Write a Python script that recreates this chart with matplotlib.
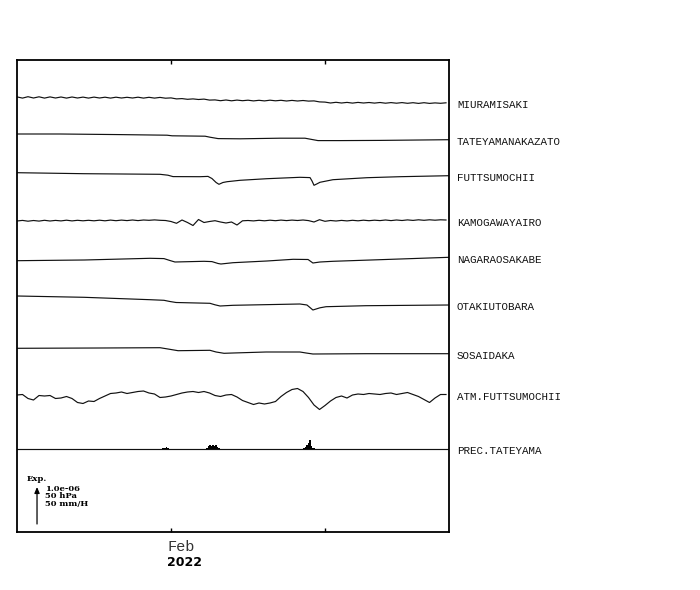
import numpy as np
import matplotlib
matplotlib.use("Agg")
import matplotlib.pyplot as plt

# ---------------- data ----------------
station_names = ["MIURAMISAKI", "TATEYAMANAKAZATO", "FUTTSUMOCHII", "KAMOGAWAYAIRO",
                 "NAGARAOSAKABE", "OTAKIUTOBARA", "SOSAIDAKA", "ATM.FUTTSUMOCHII",
                 "PREC.TATEYAMA"]

# days since 2022-01-25 00:00, 6-hourly samples for the wiggly records
wiggle_days = np.arange(79) * 0.25

miura_vals = [0.6, -0.6, 0.8, -0.5, 0.7, -0.6, 0.6, -0.5, 0.5, -0.6, 0.5, -0.5, 0.4, -0.6,
              0.4, -0.5, 0.3, -0.6, 0.3, -0.5, 0.2, -0.5, 0.3, -0.6, 0.2, -0.6, 0.1, -0.7,
              -0.4, -1.4, -1.1, -1.8, -1.4, -2.0, -1.6, -2.6, -2.4, -3.2, -2.5, -3.3, -2.6,
              -3.2, -2.7, -3.4, -2.8, -3.4, -2.7, -3.3, -2.8, -3.5, -2.9, -3.5, -3.0, -3.6,
              -3.4, -4.4, -4.6, -5.5, -4.8, -5.5, -4.9, -5.6, -4.9, -5.5, -5.0, -5.6, -5.0,
              -5.7, -5.1, -5.7, -5.1, -5.8, -5.2, -5.9, -5.2, -5.9, -5.4, -5.8, -5.3]

kamo_vals = [0.0, 0.6, -0.2, 0.5, -0.1, 0.7, 0.0, 0.6, 0.1, 0.8, 0.1, 0.7, 0.2, 0.7,
             0.2, 0.8, 0.2, 0.9, 0.3, 0.9, 0.4, 1.0, 0.4, 1.0, 0.7, 1.1, 0.7, 0.5,
             -0.5, -2.3, 1.0, -1.5, -4.5, 1.5, -1.5, -0.5, 0.3, -1.0, -2.0, -1.0, -4.0,
             0.2, 0.5, 0.1, 0.7, 0.2, 0.8, 0.3, 0.9, 0.4, 0.9, 0.5, 1.0, 0.4, -1.0,
             1.3, -0.3, 0.5, 0.0, 0.6, 0.1, 0.7, 0.2, 0.8, 0.3, 0.8, 0.4, 1.0, 0.4,
             1.0, 0.5, 1.1, 0.6, 1.2, 0.7, 1.2, 0.8, 1.2, 1.0]

atm_vals = [0.0, 0.5, -3.5, -5.0, -0.5, -1.0, -0.5, -3.5, -3.0, -1.5, -3.5, -7.5, -8.5,
            -6.0, -6.5, -3.5, -1.0, 1.5, 2.0, 3.0, 1.5, 2.5, 3.5, 4.0, 2.0, 1.0, -2.5,
            -2.0, -1.0, 0.5, 2.0, 3.0, 3.5, 2.5, 3.5, 2.0, -0.5, -1.5, 0.0, 0.5, -2.0,
            -5.5, -7.5, -9.5, -8.0, -9.0, -8.0, -6.5, -1.5, 2.5, 5.5, 6.5, 3.5, -2.5,
            -10.0, -14.5, -10.5, -6.0, -2.5, -1.0, -3.0, 0.0, 1.0, 0.5, 1.5, 1.0, 0.5,
            1.5, 2.0, 0.5, 1.5, 2.5, 0.5, -1.5, -4.5, -7.5, -3.0, 0.5, 0.5]

tateyama_days = [0.00, 1.95, 4.68, 6.82, 7.05, 8.55, 8.77, 9.14, 10.14, 11.95, 13.09,
                 13.41, 13.68, 14.68, 16.50, 18.32, 19.64]
tateyama_vals = [0, 0, -0.6, -1.2, -1.8, -2.2, -3.2, -4.6, -4.8, -4.2, -4.2, -5.5, -6.6,
                 -6.6, -6.4, -6.0, -5.7]

futtsu_days = [0.00, 3.05, 6.50, 6.86, 7.09, 8.32, 8.68, 8.86, 9.05, 9.18, 9.36, 9.55,
               10.14, 11.36, 12.86, 13.32, 13.41, 13.50, 13.64, 13.77, 14.36, 15.91,
               17.41, 19.64]
futtsu_vals = [0, -1.0, -1.6, -2.5, -3.9, -4.0, -3.7, -5.8, -9.8, -11.6, -9.8, -9.0,
               -7.6, -6.0, -4.6, -4.9, -8.3, -12.6, -11.1, -9.6, -7.0, -5.0, -4.0, -3.0]

nagara_days = [0.00, 3.05, 6.05, 6.68, 6.95, 7.18, 8.50, 8.86, 9.14, 9.27, 9.82, 11.36,
               12.55, 13.23, 13.45, 13.77, 14.36, 17.41, 19.64]
nagara_vals = [0, 0.7, 2.4, 2.1, 0.2, -1.3, -0.6, -0.9, -2.8, -3.3, -2.0, -0.3, 1.4,
               1.2, -2.3, -1.3, -0.6, 1.7, 3.4]

otaki_days = [0.00, 3.05, 6.05, 6.68, 6.95, 7.23, 8.77, 9.00, 9.23, 9.82, 12.86, 13.18,
              13.45, 13.77, 14.05, 15.86, 19.64]
otaki_vals = [0, -1.3, -3.7, -4.3, -5.5, -6.5, -7.3, -8.8, -10.0, -9.3, -8.0, -9.0,
              -14.0, -11.8, -10.7, -9.7, -9.0]

sosai_days = [0.00, 3.77, 6.50, 6.86, 7.32, 8.77, 9.05, 9.41, 9.82, 11.32, 12.86, 13.14,
              13.45, 15.86, 19.64]
sosai_vals = [0, 0.3, 0.6, -0.7, -2.4, -2.0, -3.7, -5.0, -4.7, -3.7, -3.7, -4.7, -5.7,
              -5.4, -5.4]

prec_days = [6.636, 6.727, 6.795, 6.864, 6.932,
             8.636, 8.705, 8.773, 8.841, 8.909, 8.977, 9.045, 9.114, 9.182,
             13.045, 13.114, 13.182, 13.250, 13.318, 13.364, 13.432, 13.500, 13.590]
prec_vals = [0.6, 1.2, 1.8, 1.2, 0.5,
             1.0, 3.0, 4.0, 3.2, 4.5, 3.5, 4.0, 2.5, 1.0,
             1.0, 2.0, 4.0, 6.0, 9.0, 3.0, 1.5, 1.0, 0.5]

# vertical placement of each record (axis units, 0 = bottom, 472 = top)
trace_base = [434.5, 398.0, 359.3, 311.0, 271.3, 236.0, 183.7, 137.0, 83.0]
scale_len = 37          # length of the scale arrow (axis units)
scale_texts = ["1.0e-06", "50 hPa", "50 mm/H"]

# ---------------- figure ----------------
fig = plt.figure(figsize=(7.0, 5.9), dpi=100)
ax = fig.add_axes([17 / 700, 58 / 590, 432 / 700, 472 / 590])
ax.set_xlim(0, 19.636)
ax.set_ylim(0, 472)

series = [
    (wiggle_days, miura_vals),
    (tateyama_days, tateyama_vals),
    (futtsu_days, futtsu_vals),
    (wiggle_days, kamo_vals),
    (nagara_days, nagara_vals),
    (otaki_days, otaki_vals),
    (sosai_days, sosai_vals),
    (wiggle_days, atm_vals),
]

lab_font = dict(family="Liberation Mono", size=7.8, color="#111111")
for (d, v), base, name in zip(series, trace_base, station_names):
    y = base + np.asarray(v, dtype=float)
    ax.plot(d, y, color="#111111", lw=0.85)
    ax.annotate(name, xy=(1.0, y[-1]), xycoords=("axes fraction", "data"),
                xytext=(8, -5.5), textcoords="offset pixels",
                ha="left", va="baseline", annotation_clip=False, **lab_font)

# precipitation
pbase = trace_base[-1]
ax.axhline(pbase, color="#111111", lw=0.85)
ax.bar(prec_days, prec_vals, width=0.085, bottom=pbase, color="black", linewidth=0)
ax.annotate(station_names[-1], xy=(1.0, pbase), xycoords=("axes fraction", "data"),
            xytext=(8, -5.5), textcoords="offset pixels",
            ha="left", va="baseline", annotation_clip=False, **lab_font)

# scale arrow
ax.annotate("", xy=(0.91, 8 + scale_len), xytext=(0.91, 8),
            arrowprops=dict(arrowstyle="-|>,head_length=0.35,head_width=0.15",
                            color="black", lw=0.9, shrinkA=0, shrinkB=0))
ax.text(0.45, 53, "Exp.", family="DejaVu Serif", weight="bold", size=6.0,
        ha="left", va="center")
for k, t in enumerate(scale_texts):
    ax.text(1.27, 43 - 7.4 * k, t, family="DejaVu Serif", weight="bold", size=6.0,
            ha="left", va="center")

# axes styling
for s in ax.spines.values():
    s.set_linewidth(1.3)
ax.set_xticks([7, 14])
ax.set_xticklabels(["", ""])
ax.set_yticks([])
ax.tick_params(axis="x", direction="in", length=3, width=1.0, top=True, bottom=True)

ax.annotate("Feb", xy=(7, 0), xycoords=("data", "axes fraction"), xytext=(-4, -15),
            textcoords="offset pixels", ha="left", va="center",
            family="Liberation Mono", size=11, color="#333333", annotation_clip=False)
ax.annotate("2022", xy=(7, 0), xycoords=("data", "axes fraction"), xytext=(-4, -30),
            textcoords="offset pixels", ha="left", va="center",
            family="DejaVu Sans", weight="bold", size=9, color="black",
            annotation_clip=False)

fig.savefig("out.png", dpi=100)
